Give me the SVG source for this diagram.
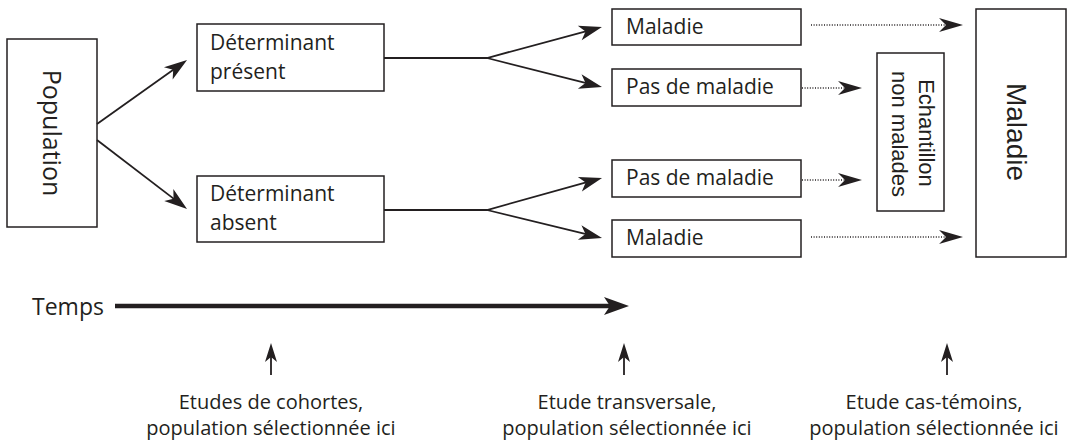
<svg xmlns="http://www.w3.org/2000/svg" width="1075" height="444" viewBox="0 0 1075 444">
<style>
  .box { fill: #ffffff; stroke: #231f20; stroke-width: 1.5; }
  .t { font-family: "Open Sans", "Liberation Sans", sans-serif; font-size: 21px; fill: #231f20; }
  .ta { font-family: "Liberation Sans", Arial, sans-serif; fill: #231f20; }
  .b { font-family: "Open Sans", "Liberation Sans", sans-serif; font-size: 20px; fill: #231f20; text-anchor: middle; }
  .ln { fill: none; stroke: #231f20; stroke-width: 1.8; }
  .dot { fill: none; stroke: #231f20; stroke-width: 1.4; stroke-dasharray: 1 1.6; }
</style>
<defs>
  <marker id="a" viewBox="-25 -9 27 18" markerWidth="27" markerHeight="18" refX="-10" refY="0" orient="auto" markerUnits="userSpaceOnUse">
    <path d="M0,0 L-23,-7.5 L-17,0 L-23,7.5 Z" fill="#231f20"/>
  </marker>
  <marker id="d" viewBox="-26 -9 28 18" markerWidth="28" markerHeight="18" refX="-12" refY="0" orient="auto" markerUnits="userSpaceOnUse">
    <path d="M0,0 L-24,-7 L-17,0 L-24,7 Z" fill="#231f20"/>
  </marker>
  <marker id="t" viewBox="-28 -11 30 22" markerWidth="30" markerHeight="22" refX="-12" refY="0" orient="auto" markerUnits="userSpaceOnUse">
    <path d="M0,0 L-25,-9 L-19,0 L-25,9 Z" fill="#231f20"/>
  </marker>
  <marker id="u" viewBox="-22 -8 24 16" markerWidth="24" markerHeight="16" refX="-8" refY="0" orient="auto" markerUnits="userSpaceOnUse">
    <path d="M0,0 L-19,-6 L-14,0 L-19,6 Z" fill="#231f20"/>
  </marker>
</defs>

<g id="population">
  <rect class="box" x="7" y="39" width="90" height="188"/>
  <text class="t" text-anchor="middle" transform="translate(43,133) rotate(90)" style="font-size:25px">Population</text>
</g>

<g id="det-present">
  <rect class="box" x="197" y="24" width="187" height="67"/>
  <text class="t" x="210" y="50">Déterminant</text>
  <text class="t" x="210" y="79">présent</text>
</g>

<g id="det-absent">
  <rect class="box" x="197" y="176" width="187" height="66"/>
  <text class="t" x="210" y="201">Déterminant</text>
  <text class="t" x="210" y="230">absent</text>
</g>

<g id="maladie-1">
  <rect class="box" x="612" y="9" width="189" height="36"/>
  <text class="t" x="626" y="34">Maladie</text>
</g>

<g id="pas-maladie-1">
  <rect class="box" x="612" y="69" width="189" height="37"/>
  <text class="t" x="626" y="94">Pas de maladie</text>
</g>

<g id="pas-maladie-2">
  <rect class="box" x="612" y="160" width="189" height="37"/>
  <text class="t" x="626" y="185">Pas de maladie</text>
</g>

<g id="maladie-2">
  <rect class="box" x="612" y="220" width="189" height="37"/>
  <text class="t" x="626" y="245">Maladie</text>
</g>

<g id="echantillon">
  <rect class="box" x="877" y="53" width="67" height="158"/>
  <text class="ta" font-size="22" text-anchor="middle" transform="translate(919,133) rotate(90)">Echantillon</text>
  <text class="ta" font-size="22" text-anchor="middle" transform="translate(892,134) rotate(90)">non malades</text>
</g>

<g id="maladie-cas">
  <rect class="box" x="976" y="9" width="90" height="248"/>
  <text class="ta" font-size="28" text-anchor="middle" transform="translate(1007,132) rotate(90)">Maladie</text>
</g>

<g id="temps">
  <text class="t" x="32" y="315" style="font-size:23px">Temps</text>
</g>

<g id="etudes">
  <text class="b" x="271" y="409">Etudes de cohortes,</text>
  <text class="b" x="271" y="435">population sélectionnée ici</text>
  <text class="b" x="627" y="409">Etude transversale,</text>
  <text class="b" x="627" y="435">population sélectionnée ici</text>
  <text class="b" x="934" y="409">Etude cas-témoins,</text>
  <text class="b" x="934" y="435">population sélectionnée ici</text>
</g>

<g id="connectors">
  <line class="ln" x1="97" y1="124" x2="178.9" y2="65.8" marker-end="url(#a)"/>
  <line class="ln" x1="97" y1="140" x2="179.1" y2="202.9" marker-end="url(#a)"/>
  <polyline class="ln" points="384,58 487,58 592.3,29.6" marker-end="url(#a)"/>
  <line class="ln" x1="487" y1="58" x2="592.3" y2="84.6" marker-end="url(#a)"/>
  <polyline class="ln" points="384,210 487,210 592.4,180.7" marker-end="url(#a)"/>
  <line class="ln" x1="487" y1="210" x2="592.3" y2="235.6" marker-end="url(#a)"/>
  <line class="dot" x1="811" y1="25" x2="951" y2="25" marker-end="url(#d)"/>
  <line class="dot" x1="802" y1="88" x2="850" y2="88" marker-end="url(#d)"/>
  <line class="dot" x1="802" y1="180" x2="850" y2="180" marker-end="url(#d)"/>
  <line class="dot" x1="811" y1="237" x2="951" y2="237" marker-end="url(#d)"/>
  <line x1="115" y1="306" x2="617" y2="306" stroke="#231f20" stroke-width="4.5" marker-end="url(#t)"/>
  <line class="ln" x1="271" y1="375" x2="271" y2="351" marker-end="url(#u)"/>
  <line class="ln" x1="624" y1="375" x2="624" y2="351" marker-end="url(#u)"/>
  <line class="ln" x1="947" y1="375" x2="947" y2="351" marker-end="url(#u)"/>
</g>
</svg>
